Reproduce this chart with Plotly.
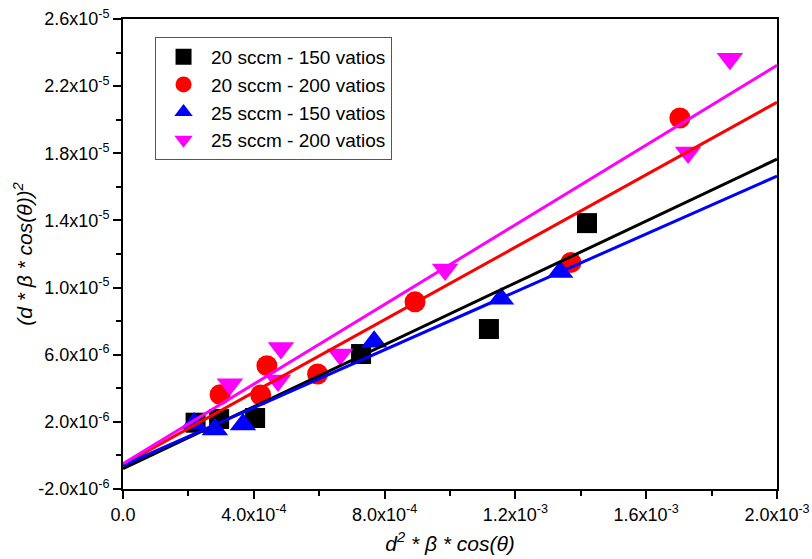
import plotly.graph_objects as go

# ---------------- data ----------------
series_names = ["20 sccm - 150 vatios", "20 sccm - 200 vatios",
                "25 sccm - 150 vatios", "25 sccm - 200 vatios"]

x_20_150 = [2.22e-4, 2.94e-4, 4.04e-4, 7.28e-4, 1.119e-3, 1.419e-3]
y_20_150 = [1.95e-6, 2.17e-6, 2.23e-6, 6.04e-6, 7.53e-6, 13.84e-6]

x_20_200 = [2.97e-4, 4.21e-4, 4.40e-4, 5.95e-4, 8.93e-4, 1.370e-3, 1.703e-3]
y_20_200 = [3.62e-6, 3.60e-6, 5.35e-6, 4.85e-6, 9.15e-6, 11.50e-6, 20.10e-6]

x_25_150 = [2.17e-4, 2.81e-4, 3.67e-4, 7.68e-4, 1.156e-3, 1.337e-3]
y_25_150 = [1.90e-6, 1.55e-6, 1.85e-6, 6.77e-6, 9.33e-6, 10.93e-6]

x_25_200 = [3.27e-4, 4.83e-4, 4.74e-4, 6.64e-4, 9.85e-4, 1.728e-3, 1.856e-3]
y_25_200 = [4.24e-6, 6.40e-6, 4.46e-6, 6.01e-6, 11.07e-6, 18.04e-6, 23.63e-6]

# linear fit lines (end values)
fit_x = [0.0, 2.0e-3]
fit_20_150 = [-0.78e-6, 17.65e-6]
fit_20_200 = [-0.55e-6, 21.04e-6]
fit_25_150 = [-0.60e-6, 16.64e-6]
fit_25_200 = [-0.50e-6, 23.24e-6]

# axis ticks
x_tickvals = [0.0, 4e-4, 8e-4, 1.2e-3, 1.6e-3, 2.0e-3]
x_ticktext = ["0.0", "4.0x10<sup>-4</sup>", "8.0x10<sup>-4</sup>",
              "1.2x10<sup>-3</sup>", "1.6x10<sup>-3</sup>", "2.0x10<sup>-3</sup>"]
y_tickvals = [-2e-6, 2e-6, 6e-6, 1.0e-5, 1.4e-5, 1.8e-5, 2.2e-5, 2.6e-5]
y_ticktext = ["-2.0x10<sup>-6</sup>", "2.0x10<sup>-6</sup>", "6.0x10<sup>-6</sup>",
              "1.0x10<sup>-5</sup>", "1.4x10<sup>-5</sup>", "1.8x10<sup>-5</sup>",
              "2.2x10<sup>-5</sup>", "2.6x10<sup>-5</sup>"]

# ---------------- styling ----------------
FONT = "Liberation Sans, Arial, Helvetica, sans-serif"
colors = ["#000000", "#FF0000", "#0000FF", "#FF00FF"]
symbols = ["square", "circle", "triangle-up", "triangle-down"]
sizes = [20, 21, 23, 23]

xs = [x_20_150, x_20_200, x_25_150, x_25_200]
ys = [y_20_150, y_20_200, y_25_150, y_25_200]
fits = [fit_20_150, fit_20_200, fit_25_150, fit_25_200]

fig = go.Figure()
for name, x, y, c, s, sz in zip(series_names, xs, ys, colors, symbols, sizes):
    fig.add_trace(go.Scatter(
        x=x, y=y, mode="markers", name=name,
        marker=dict(color=c, symbol=s, size=sz, line=dict(width=0)),
    ))
for c, f in zip(colors, fits):
    fig.add_trace(go.Scatter(
        x=fit_x, y=f, mode="lines", showlegend=False, hoverinfo="skip",
        line=dict(color=c, width=3),
    ))

axis_common = dict(
    showline=True, linecolor="black", linewidth=2, mirror=True,
    showgrid=False, zeroline=False, automargin=False,
    ticks="outside", ticklen=8, tickwidth=2, tickcolor="black",
    tickfont=dict(family=FONT, size=18, color="black"),
)

fig.update_xaxes(
    range=[0, 2.0e-3], tickmode="array", tickvals=x_tickvals, ticktext=x_ticktext,
    minor=dict(ticks="outside", ticklen=5, tickwidth=2, tickcolor="black",
               dtick=2e-4, tick0=0, showgrid=False),
    title=dict(text="<i>d<sup>2</sup> * β * cos(θ)</i>", standoff=13,
               font=dict(family=FONT, size=21, color="black")),
    **axis_common,
)
fig.update_yaxes(
    range=[-2.0e-6, 2.6e-5], tickmode="array", tickvals=y_tickvals, ticktext=y_ticktext,
    minor=dict(ticks="outside", ticklen=5, tickwidth=2, tickcolor="black",
               dtick=2e-6, tick0=0, showgrid=False),
    title=dict(text="<i>(d * β * cos(θ))<sup>2</sup></i>", standoff=0,
               font=dict(family=FONT, size=21, color="black")),
    **axis_common,
)

fig.update_layout(
    width=812, height=559,
    margin=dict(l=123, r=35, t=19, b=70, pad=0, autoexpand=False),
    paper_bgcolor="white", plot_bgcolor="white",
    font=dict(family=FONT, color="black"),
    legend=dict(
        x=0.049, y=0.962, xanchor="left", yanchor="top",
        bgcolor="white", bordercolor="#555555", borderwidth=1,
        font=dict(family=FONT, size=19, color="black"),
        itemwidth=45, tracegroupgap=0,
    ),
    showlegend=True,
)

fig.write_html("out.html", config={"displayModeBar": False},
               post_script="document.body.style.margin='0';")
